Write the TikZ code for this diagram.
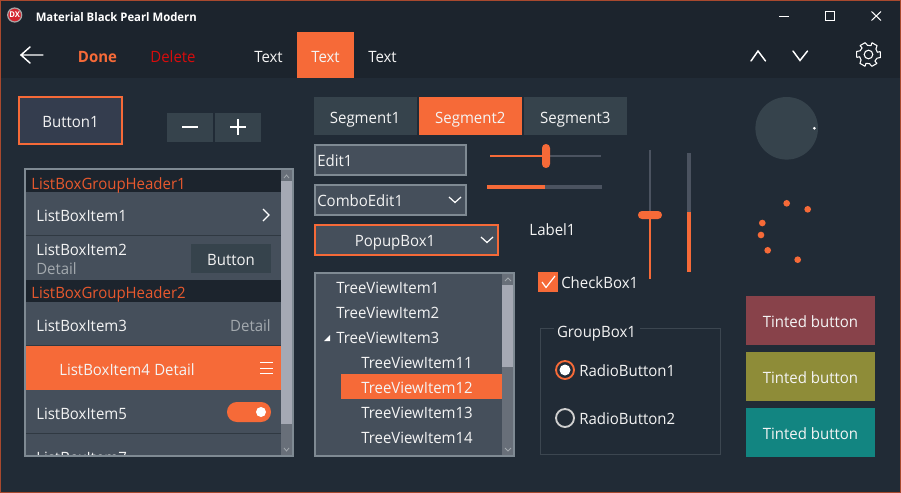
\documentclass[tikz,border=0pt]{standalone}
\usepackage{fontspec}
\setmainfont[FakeStretch=0.96]{Open Sans}
\definecolor{bgmain}{HTML}{212B36}
\definecolor{bgbar}{HTML}{1C242D}
\definecolor{winedge}{HTML}{A8492E}
\definecolor{accent}{HTML}{F66A38}
\definecolor{itemfill}{HTML}{454F5B}
\definecolor{segfill}{HTML}{36434C}
\definecolor{edgegrey}{HTML}{7F8A93}
\definecolor{btnfill}{HTML}{343D4E}
\definecolor{thumb}{HTML}{A5A9B4}
\definecolor{sbtrack}{HTML}{686F79}
\definecolor{trackgrey}{HTML}{4B5360}
\definecolor{sepdark}{HTML}{303942}
\definecolor{detailgrey}{HTML}{A3A9AE}
\definecolor{textwhite}{HTML}{F4F4F4}
\definecolor{delred}{HTML}{D80C0C}
\definecolor{hdrorange}{HTML}{E8592E}
\definecolor{tintred}{HTML}{88424A}
\definecolor{tintolive}{HTML}{8E8C38}
\definecolor{tintteal}{HTML}{128581}
\definecolor{groupedge}{HTML}{3C4650}
\definecolor{dxred}{HTML}{D4242F}
\definecolor{dxring}{HTML}{A9A5A5}
\tikzset{
  x=0.75pt,y=-0.75pt,
  lbl/.style={inner sep=0pt,text=textwhite,font=\fontsize{11.7}{13}\selectfont,anchor=base,yshift=-4.7pt},
  lbll/.style={lbl,anchor=base west},
  lblr/.style={lbl,anchor=base east},
  hdr/.style={lbll,text=hdrorange},
  icon/.style={draw=white,line width=1.1pt,line cap=round,line join=miter},
  dot/.style={circle,fill=accent,inner sep=0pt,minimum size=5pt},
}
\begin{document}
\begin{tikzpicture}
\useasboundingbox (0,0) rectangle (901,493);
% window
\fill[bgmain] (0,0) rectangle (901,493);
\fill[bgbar] (0,0) rectangle (901,78);
\draw[winedge,line width=0.75pt] (0.5,0.5) rectangle (900.5,492.5);
% title bar
\fill[dxred,draw=dxring,line width=0.9pt] (14.7,15) circle (7);
\node[inner sep=0pt,text=white,font=\bfseries\fontsize{6}{6}\selectfont] (dx) at (14.7,15) {DX};
\node[lbll,font=\bfseries\fontsize{8.85}{10}\selectfont,text=white,yshift=1.6pt] (title) at (35.5,17) {Material Black Pearl Modern};
\coordinate (minA) at (779,16.5); \coordinate (minB) at (789,16.5);
\draw[white,line width=0.75pt] (minA) -- (minB);
\draw[white,line width=0.75pt] (825.5,11.5) rectangle (834.5,20.5);
\draw[white,line width=0.75pt] (871.5,11.5) -- (881,20.5) (881,11.5) -- (871.5,20.5);
% toolbar
\draw[icon] (43,55) -- (21,55) (30,47) -- (21,55) -- (30,63);
\node[lbl,font=\bfseries\fontsize{11.7}{13}\selectfont,text=accent] (done) at (97.5,56.5) {Done};
\node[lbl,text=delred] (delete) at (173,56.5) {Delete};
\node[lbl] (t1) at (268.5,56.5) {Text};
\fill[accent] (297,32) rectangle (354,78);
\node[lbl] (t2) at (325.5,56.5) {Text};
\node[lbl] (t3) at (382.5,56.5) {Text};
\draw[icon] (751,61) -- (758,51) -- (765.5,61);
\draw[icon] (793,51) -- (800,60.5) -- (807.5,51);
% gear
\begin{scope}[shift={(868.5,54.5)}]
\draw[white,line width=0.8pt] (0,0) circle (4.3);
\draw[white,line width=0.8pt,line join=round]
 \foreach \a in {0,60,...,300} {
  ({\a-14}:12.3) -- ({\a+14}:12.3) -- ({\a+24}:9.2) -- ({\a+46}:9.2) -- ({\a+60-14}:12.3)
 } ;
\end{scope}
% button1
\fill[btnfill] (19,97) rectangle (122,144);
\draw[accent,line width=1.5pt] (19,97) rectangle (122,144);
\node[lbl] (button1) at (70.5,121) {Button1};
% stepper
\fill[segfill] (167,113) rectangle (213,142);
\fill[segfill] (215,113) rectangle (261,142);
\draw[white,line width=1.3pt] (182,127) -- (198,127);
\draw[white,line width=1.3pt] (230,127) -- (246,127) (238,119) -- (238,135);
% listbox
\fill[itemfill] (26,170) rectangle (281,456);
\begin{scope}
\clip (26,170) rectangle (292,455);
\fill[bgbar] (26,170) rectangle (281,192);
\node[hdr] (h1) at (31,183) {ListBoxGroupHeader1};
\node[lbll] (li1) at (36,215.5) {ListBoxItem1};
\draw[white,line width=0.9pt] (263,209) -- (269,215) -- (263,221);
\fill[sepdark] (26,235) rectangle (281,236);
\node[lbll] (li2) at (36,249.5) {ListBoxItem2};
\node[lbll,text=detailgrey] (li2d) at (36,268.5) {Detail};
\fill[segfill] (191,244) rectangle (271,273);
\node[lbl] (libtn) at (231,259.5) {Button};
\fill[bgbar] (26,280) rectangle (281,302);
\node[hdr] (h2) at (31,292) {ListBoxGroupHeader2};
\node[lbll] (li3) at (36,325.5) {ListBoxItem3};
\node[lblr,text=detailgrey] (li3d) at (271,325.5) {Detail};
\fill[sepdark] (26,345) rectangle (281,346);
\fill[accent] (26,346) rectangle (281,390);
\node[lbll] (li4) at (59,369.5) {ListBoxItem4};
\node[lbll] (li4d) at (154,369.5) {Detail};
\draw[white,line width=0.6pt] (260,362.5) -- (273,362.5) (260,368) -- (273,368) (260,373.5) -- (273,373.5);
\node[lbll] (li5) at (36,413.5) {ListBoxItem5};
\fill[accent,rounded corners=7.4pt] (227,402) rectangle (271,422);
\fill[white] (261,412) circle (5);
\fill[sepdark] (26,433) rectangle (281,434);
\node[lbll] (li7) at (36,457) {ListBoxItem7};
% scrollbar
\fill[sbtrack] (281,170) rectangle (292,456);
\fill[thumb] (281,181) rectangle (292,424);
\draw[detailgrey,line width=0.6pt] (284,178) -- (286.5,175) -- (289,178);
\draw[detailgrey,line width=0.6pt] (284,448) -- (286.5,451) -- (289,448);
\end{scope}
\draw[edgegrey,line width=1.5pt] (25,169) rectangle (293,456);
% segments
\fill[segfill] (314,97) rectangle (417,135);
\fill[accent] (419,97) rectangle (522,135);
\fill[segfill] (524,97) rectangle (627,135);
\node[lbl] (s1) at (365,117.3) {Segment1};
\node[lbl] (s2) at (470.3,117.3) {Segment2};
\node[lbl] (s3) at (575.3,117.3) {Segment3};
% edits
\fill[itemfill] (315,145) rectangle (466,175);
\draw[edgegrey,line width=1.5pt] (315,145) rectangle (466,175);
\node[lbll] (edit) at (317,160.5) {Edit1};
\fill[itemfill] (315,185) rectangle (466,215);
\draw[edgegrey,line width=1.5pt] (315,185) rectangle (466,215);
\node[lbll] (combo) at (317,200.5) {ComboEdit1};
\draw[white,line width=0.9pt] (449,197) -- (455,202.5) -- (461,197);
\fill[itemfill] (315,225) rectangle (498,255);
\draw[accent,line width=1.5pt] (315,225) rectangle (498,255);
\node[lbl] (popup) at (395,240.5) {PopupBox1};
\draw[white,line width=0.9pt] (481,237) -- (487,242.5) -- (493,237);
% horizontal slider and progress
\fill[trackgrey] (490,155) rectangle (601,157);
\fill[accent] (490,155) rectangle (546,157);
\fill[accent,rounded corners=2.9pt] (542,144) rectangle (550,168);
\fill[trackgrey] (487,185) rectangle (602,189);
\fill[accent] (487,185) rectangle (545,189);
\node[lbl] (label) at (552.5,229.5) {Label1};
% tree
\fill[itemfill] (315,273) rectangle (514,456);
\fill[accent] (341,374) rectangle (502,399);
\node[lbll] (tv1) at (336,287) {TreeViewItem1};
\node[lbll] (tv2) at (336,312) {TreeViewItem2};
\node[lbll] (tv3) at (336,337) {TreeViewItem3};
\fill[white] (330,335) -- (330,341) -- (324,341) -- cycle;
\node[lbll] (tv11) at (361,362) {TreeViewItem11};
\node[lbll] (tv12) at (361,387) {TreeViewItem12};
\node[lbll] (tv13) at (361,412) {TreeViewItem13};
\node[lbll] (tv14) at (361,437) {TreeViewItem14};
\fill[sbtrack] (502,274) rectangle (513.5,456);
\fill[thumb] (502,285) rectangle (513.5,367);
\draw[detailgrey,line width=0.6pt] (505,281) -- (508,278) -- (511,281);
\draw[detailgrey,line width=0.6pt] (505,448) -- (508,451) -- (511,448);
\draw[edgegrey,line width=1.5pt] (315,273) rectangle (514,456);
% checkbox
\fill[accent] (538,272) rectangle (558,292);
\draw[white,line width=0.9pt] (542,282) -- (546,287.5) -- (555,276);
\node[lbll] (check) at (561,282) {CheckBox1};
% groupbox
\coordinate (gbA) at (554,328.5);
\draw[groupedge,line width=0.75pt] (gbA) -- (540.5,328.5) -- (540.5,454.5) -- (720.5,454.5) -- (720.5,328.5) -- (640,328.5);
\node[lbl] (gb) at (596.5,331.5) {GroupBox1};
\draw[accent,line width=1.4pt] (565,370) circle (9);
\fill[white] (565,370) circle (5.5);
\node[lbll] (r1) at (579,370.5) {RadioButton1};
\draw[textwhite!85!black,line width=1.4pt] (565,418) circle (9);
\node[lbll] (r2) at (579,418.5) {RadioButton2};
% vertical slider and progress
\fill[trackgrey] (649,150) rectangle (651,215);
\fill[accent] (649,215) rectangle (651,278.5);
\fill[accent,rounded corners=2.9pt] (638,211) rectangle (662,219);
\fill[trackgrey] (687,153) rectangle (691,212);
\fill[accent] (687,212) rectangle (691,272);
% knob
\fill[segfill] (786.7,128.3) circle (31.3);
\fill[white] (814.3,128.3) circle (1.5);
% spinner
\foreach \n/\px/\py in {a/786.7/203.3,b/807.7/209.3,c/762.3/223,d/761/235,e/767.7/250.3,f/797.7/259.7}
  \node[dot] (sp\n) at (\px,\py) {};
% tinted buttons
\fill[tintred] (746,296) rectangle (875,345);
\node[lbl] (b1) at (810.5,321.5) {Tinted button};
\fill[tintolive] (746,352) rectangle (875,401);
\node[lbl] (b2) at (810.5,377.5) {Tinted button};
\fill[tintteal] (746,408) rectangle (875,457);
\node[lbl] (b3) at (810.5,433.5) {Tinted button};
\end{tikzpicture}
\end{document}
